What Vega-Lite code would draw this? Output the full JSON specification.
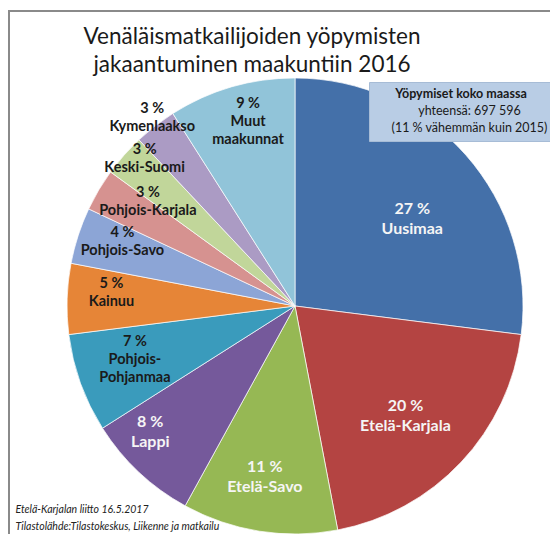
{
  "$schema": "https://vega.github.io/schema/vega-lite/v6.json",
  "autosize": "none",
  "width": 572,
  "height": 590,
  "padding": {"left": 9, "top": 11, "right": 0, "bottom": 0},
  "background": "white",
  "view": {"stroke": "#8a8a8a", "strokeWidth": 2},
  "title": {
    "text": ["Venäläismatkailijoiden yöpymisten", "jakaantuminen maakuntiin 2016"],
    "anchor": "middle",
    "frame": "group",
    "dx": -43,
    "offset": -65,
    "font": "Lato",
    "fontSize": 22.5,
    "fontWeight": "normal",
    "color": "#1a1a1a",
    "lineHeight": 28
  },
  "config": {
    "view": {"stroke": "#8a8a8a", "strokeWidth": 2},
    "text": {"font": "Lato", "fontWeight": "bold", "lineBreak": "\n", "align": "center", "baseline": "middle"}
  },
  "layer": [
    {
      "data": {
        "values": [
          {"nro": 1, "maakunta": "Uusimaa", "osuus": 27, "label": "27 %\nUusimaa"},
          {"nro": 2, "maakunta": "Etelä-Karjala", "osuus": 20, "label": "20 %\nEtelä-Karjala"},
          {"nro": 3, "maakunta": "Etelä-Savo", "osuus": 11, "label": "11 %\nEtelä-Savo"},
          {"nro": 4, "maakunta": "Lappi", "osuus": 8, "label": "8 %\nLappi"},
          {"nro": 5, "maakunta": "Pohjois-Pohjanmaa", "osuus": 7, "label": "7 %\nPohjois-\nPohjanmaa"},
          {"nro": 6, "maakunta": "Kainuu", "osuus": 5, "label": "5 %\nKainuu"},
          {"nro": 7, "maakunta": "Pohjois-Savo", "osuus": 4, "label": "4 %\nPohjois-Savo"},
          {"nro": 8, "maakunta": "Pohjois-Karjala", "osuus": 3, "label": "3 %\nPohjois-Karjala"},
          {"nro": 9, "maakunta": "Keski-Suomi", "osuus": 3, "label": "3 %\nKeski-Suomi"},
          {"nro": 10, "maakunta": "Kymenlaakso", "osuus": 3, "label": "3 %\nKymenlaakso"},
          {"nro": 11, "maakunta": "Muut maakunnat", "osuus": 9, "label": "9 %\nMuut\nmaakunnat"}
        ]
      },
      "encoding": {
        "theta": {"field": "osuus", "type": "quantitative", "stack": true},
        "order": {"field": "nro", "type": "quantitative"}
      },
      "layer": [
        {
          "mark": {"type": "arc", "outerRadius": 228, "stroke": "white", "strokeWidth": 0.7},
          "encoding": {
            "color": {
              "field": "maakunta",
              "type": "nominal",
              "legend": null,
              "scale": {
                "domain": ["Uusimaa", "Etelä-Karjala", "Etelä-Savo", "Lappi", "Pohjois-Pohjanmaa", "Kainuu", "Pohjois-Savo", "Pohjois-Karjala", "Keski-Suomi", "Kymenlaakso", "Muut maakunnat"],
                "range": ["#4470a9", "#b44442", "#96b854", "#75599b", "#3a9bbc", "#e68537", "#8ca5d6", "#d69290", "#c1d69a", "#ab9bc4", "#91c4d9"]
              }
            }
          }
        },
        {
          "mark": {"type": "text", "radius": 146, "thetaOffset": 0.084, "dy": -10, "color": "#f5f5f5", "fontSize": 16, "lineHeight": 20},
          "encoding": {
            "text": {"field": "label"},
            "opacity": {"condition": {"test": "datum.maakunta === 'Uusimaa'", "value": 1}, "value": 0}
          }
        },
        {
          "mark": {"type": "text", "radius": 156, "thetaOffset": 0.03, "dy": -10, "color": "#f5f5f5", "fontSize": 16, "lineHeight": 20},
          "encoding": {
            "text": {"field": "label"},
            "opacity": {"condition": {"test": "datum.maakunta === 'Etelä-Karjala'", "value": 1}, "value": 0}
          }
        },
        {
          "mark": {"type": "text", "radius": 174, "thetaOffset": 0.017, "dy": -10, "color": "#f5f5f5", "fontSize": 16, "lineHeight": 20},
          "encoding": {
            "text": {"field": "label"},
            "opacity": {"condition": {"test": "datum.maakunta === 'Etelä-Savo'", "value": 1}, "value": 0}
          }
        },
        {
          "mark": {"type": "text", "radius": 192, "thetaOffset": 0.1, "dy": -10, "color": "#f5f5f5", "fontSize": 16, "lineHeight": 20},
          "encoding": {
            "text": {"field": "label"},
            "opacity": {"condition": {"test": "datum.maakunta === 'Lappi'", "value": 1}, "value": 0}
          }
        },
        {
          "mark": {"type": "text", "radius": 169, "thetaOffset": 0.02, "dy": -18, "color": "#1a1a1a", "fontSize": 14.5, "lineHeight": 18},
          "encoding": {
            "text": {"field": "label"},
            "opacity": {"condition": {"test": "datum.maakunta === 'Pohjois-Pohjanmaa'", "value": 1}, "value": 0}
          }
        },
        {
          "mark": {"type": "text", "radius": 184, "thetaOffset": 0.04, "dy": -9, "color": "#1a1a1a", "fontSize": 14.5, "lineHeight": 18},
          "encoding": {
            "text": {"field": "label"},
            "opacity": {"condition": {"test": "datum.maakunta === 'Kainuu' || datum.maakunta === 'Pohjois-Savo'", "value": 1}, "value": 0}
          }
        },
        {
          "mark": {"type": "text", "radius": 180, "thetaOffset": 0.08, "dy": -9, "color": "#1a1a1a", "fontSize": 14.5, "lineHeight": 18},
          "encoding": {
            "text": {"field": "label"},
            "opacity": {"condition": {"test": "datum.maakunta === 'Pohjois-Karjala'", "value": 1}, "value": 0}
          }
        },
        {
          "mark": {"type": "text", "radius": 210, "thetaOffset": 0.05, "dy": -9, "color": "#1a1a1a", "fontSize": 14.5, "lineHeight": 18},
          "encoding": {
            "text": {"field": "label"},
            "opacity": {"condition": {"test": "datum.maakunta === 'Keski-Suomi'", "value": 1}, "value": 0}
          }
        },
        {
          "mark": {"type": "text", "radius": 236, "thetaOffset": 0.01, "dy": -9, "color": "#1a1a1a", "fontSize": 14.5, "lineHeight": 18},
          "encoding": {
            "text": {"field": "label"},
            "opacity": {"condition": {"test": "datum.maakunta === 'Kymenlaakso'", "value": 1}, "value": 0}
          }
        },
        {
          "mark": {"type": "text", "radius": 190, "thetaOffset": 0.033, "dy": -18, "color": "#1a1a1a", "fontSize": 14.5, "lineHeight": 18},
          "encoding": {
            "text": {"field": "label"},
            "opacity": {"condition": {"test": "datum.maakunta === 'Muut maakunnat'", "value": 1}, "value": 0}
          }
        }
      ]
    },
    {
      "data": {"values": [{"rivi": "yhteensä: 697 596"}, {"rivi": "(11 % vähemmän kuin 2015)"}]},
      "mark": {"type": "point", "opacity": 0},
      "encoding": {
        "shape": {
          "field": "rivi",
          "type": "nominal",
          "sort": null,
          "legend": {
            "title": "Yöpymiset koko maassa",
            "orient": "none",
            "legendX": 360,
            "legendY": 71,
            "fillColor": "#b9cde5",
            "strokeColor": "#a7bcd6",
            "padding": 6,
            "titleFont": "Lato",
            "titleFontSize": 12.5,
            "titleFontWeight": "bold",
            "titleColor": "#1a1a1a",
            "titleAnchor": "middle",
            "titlePadding": 4,
            "labelFont": "Lato",
            "labelFontSize": 12.5,
            "labelColor": "#1a1a1a",
            "labelLimit": 400,
            "labelAlign": "center",
            "labelOffset": 82,
            "symbolSize": 0,
            "symbolOpacity": 0,
            "symbolStrokeWidth": 0,
            "rowPadding": 4
          }
        }
      }
    },
    {
      "data": {"values": [{"lahde": "Etelä-Karjalan liitto 16.5.2017"}, {"lahde": "Tilastolähde:Tilastokeskus, Liikenne ja matkailu"}]},
      "mark": {"type": "point", "opacity": 0},
      "encoding": {
        "shape": {
          "field": "lahde",
          "type": "nominal",
          "sort": null,
          "legend": {
            "title": null,
            "orient": "none",
            "legendX": -4,
            "legendY": 494,
            "padding": 0,
            "labelFont": "Lato",
            "labelFontSize": 10.5,
            "labelFontStyle": "italic",
            "labelColor": "#222222",
            "labelLimit": 400,
            "labelOffset": 0,
            "symbolSize": 0,
            "symbolOpacity": 0,
            "symbolStrokeWidth": 0,
            "rowPadding": 6
          }
        }
      }
    }
  ],
  "resolve": {"scale": {"shape": "independent"}}
}
